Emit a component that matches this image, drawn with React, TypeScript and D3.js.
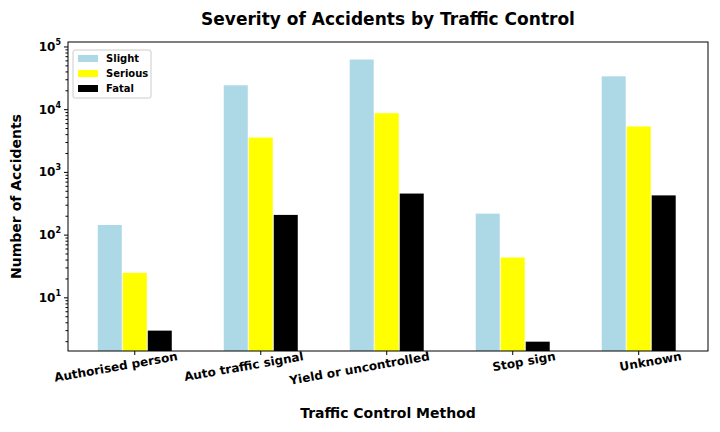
import React from "react";
import * as d3 from "d3";

const categories = ["Authorised person", "Auto traffic signal", "Yield or uncontrolled", "Stop sign", "Unknown"];
const seriesNames = ["Slight", "Serious", "Fatal"];
const colors = ["#add8e6", "#ffff00", "#000000"];
const slight = [145, 24500, 63000, 220, 34000];
const serious = [25, 3600, 8800, 44, 5400];
const fatal = [3, 210, 460, 2, 430];
const yTicks = [10, 100, 1000, 10000, 100000];

export default function App() {
  const L = 68, R = 708, T = 42, B = 351;
  const y = d3.scaleLog().domain([1.42, 120000]).range([B, T]);
  const x = d3.scaleLinear().domain([-0.53, 4.55]).range([L, R]);
  const bw = 25;
  const data = [slight, serious, fatal];
  const minor: number[] = [];
  for (let e = 0; e < 5; e++) for (let m = 2; m < 10; m++) { const v = m * 10 ** e; if (v > 1.42 && v < 120000) minor.push(v); }
  const font = "DejaVu Sans";
  return (
    <svg width={720} height={432} style={{ position: "absolute", left: 0, top: 0, fontFamily: font }}>
      <rect width={720} height={432} fill="white" />
      <text x={388} y={25} textAnchor="middle" fontSize={17} fontWeight="bold">Severity of Accidents by Traffic Control</text>
      {data.map((s, si) => s.map((v, i) => (
        <rect key={si + "-" + i} x={x(i) + (si - 1) * bw - bw / 2 + 0.5} width={bw - 1} y={y(v)} height={B - y(v)} fill={colors[si]} />
      )))}
      <rect x={L} y={T} width={R - L} height={B - T} fill="none" stroke="black" strokeWidth={1} />
      {minor.map(v => <line key={v} x1={L - 2.5} x2={L} y1={y(v)} y2={y(v)} stroke="black" />)}
      {yTicks.map((v, i) => (
        <g key={v}>
          <line x1={L - 4} x2={L} y1={y(v)} y2={y(v)} stroke="black" />
          <text x={L - 7} y={y(v) + 4} textAnchor="end" fontSize={12} fontWeight="bold">10<tspan dy={-6} fontSize={8}>{i + 1}</tspan></text>
        </g>
      ))}
      {categories.map((c, i) => (
        <g key={c}>
          <line x1={x(i)} x2={x(i)} y1={B} y2={B + 4} stroke="black" />
          <text transform={`translate(${x(i) + 4},${B + 16}) rotate(-10)`} textAnchor="end" fontSize={12} fontWeight="bold" dx={40}>{c}</text>
        </g>
      ))}
      <text x={388} y={418} textAnchor="middle" fontSize={14} fontWeight="bold">Traffic Control Method</text>
      <text transform={`translate(21,${(T + B) / 2}) rotate(-90)`} textAnchor="middle" fontSize={14} fontWeight="bold">Number of Accidents</text>
      <g>
        <rect x={73} y={50} width={78} height={48} fill="white" stroke="#ccc" rx={2} />
        {seriesNames.map((n, i) => (
          <g key={n}>
            <rect x={78} y={55 + i * 15} width={20} height={7} fill={colors[i]} />
            <text x={106} y={62 + i * 15} fontSize={10} fontWeight="bold">{n}</text>
          </g>
        ))}
      </g>
    </svg>
  );
}
